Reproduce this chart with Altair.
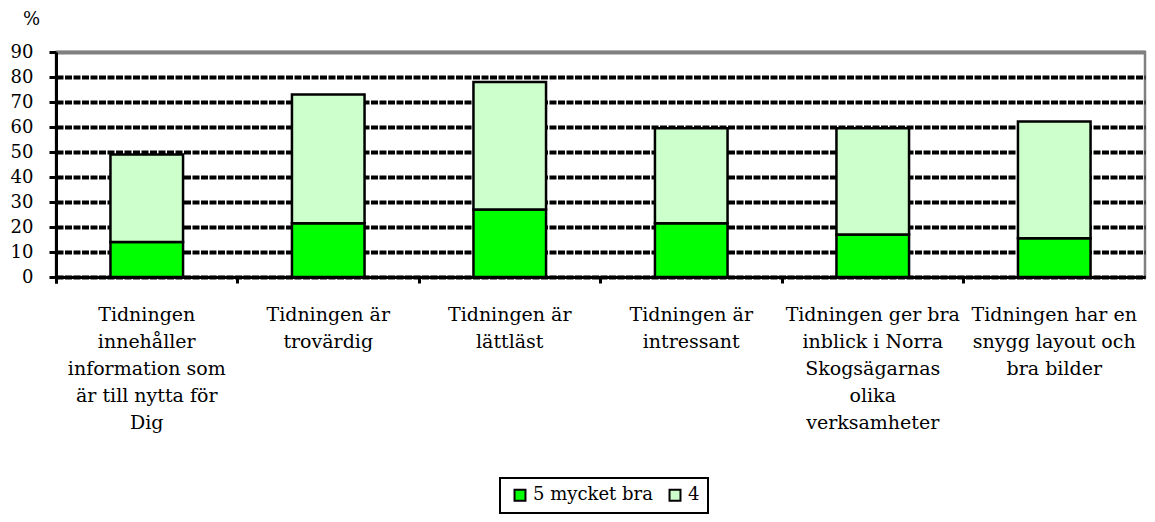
import altair as alt
import pandas as pd

categories = [
    "Tidningen|innehåller|information som|är till nytta för|Dig",
    "Tidningen är|trovärdig",
    "Tidningen är|lättläst",
    "Tidningen är|intressant",
    "Tidningen ger bra|inblick i Norra|Skogsägarnas|olika|verksamheter",
    "Tidningen har en|snygg layout och|bra bilder",
]
series = ["5 mycket bra", "4"]
values_5 = [14, 21.5, 27, 21.5, 17, 15.5]
values_4 = [35, 51.5, 51, 38, 42.5, 46.7]
colors = ["#00FF00", "#CCFFCC"]
y_ticks = [0, 10, 20, 30, 40, 50, 60, 70, 80, 90]

rows = []
for c, a, b in zip(categories, values_5, values_4):
    rows.append({"cat": c, "serie": series[0], "value": a, "ord": 0})
    rows.append({"cat": c, "serie": series[1], "value": b, "ord": 1})
df = pd.DataFrame(rows)

FONT = "DejaVu Serif"

chart = alt.Chart(df).mark_bar(
    width=alt.RelativeBandSize(0.4), stroke="black", strokeWidth=2.5
).encode(
    x=alt.X("cat:N", sort=categories, title=None,
            scale=alt.Scale(paddingInner=0, paddingOuter=0),
            axis=alt.Axis(
                labelExpr="split(datum.label, '|')",
                labelAngle=0, labelFont=FONT, labelFontSize=19,
                labelLineHeight=27, labelColor="black",
                labelPadding=22, labelLimit=400,
                bandPosition=0, tickExtra=True,
                tickSize=6, tickWidth=3, tickColor="black",
                domainColor="black", domainWidth=3,
                grid=False)),
    y=alt.Y("value:Q", stack="zero", title="%",
            scale=alt.Scale(domain=[0, 90], nice=False),
            axis=alt.Axis(
                values=y_ticks, labelFont=FONT, labelFontSize=18,
                labelColor="black", labelPadding=16,
                tickSize=7, tickWidth=3, tickColor="black",
                domainColor="black", domainWidth=3,
                grid=True,
                gridColor={"condition": {"test": "datum.value == 90", "value": "#808080"}, "value": "black"},
                gridDash={"condition": {"test": "datum.value == 90", "value": [1, 0]}, "value": [7, 1.5]},
                gridWidth=4,
                titleAngle=0, titleFont=FONT, titleFontSize=18,
                titleFontWeight="normal", titleColor="black",
                titleX=-25, titleY=-33, titleAlign="center",
                titleBaseline="middle")),
    color=alt.Color("serie:N", sort=series,
                    scale=alt.Scale(domain=series, range=colors),
                    legend=alt.Legend(
                        title=None, orient="none", direction="horizontal",
                        legendX=444, legendY=426,
                        strokeColor="black", padding=8,
                        symbolType="square", symbolSize=120,
                        symbolOffset=3,
                        symbolStrokeColor="black", symbolStrokeWidth=2,
                        labelFont=FONT, labelFontSize=18, labelColor="black",
                        labelOffset=4, columnPadding=10)),
    order=alt.Order("ord:Q"),
).properties(
    width=1089, height=225,
    autosize=alt.AutoSizeParams(type="none"),
    padding={"left": 48, "top": 44, "right": 2, "bottom": 237},
).configure_view(
    stroke="#808080", strokeWidth=2.5
).configure_legend(
    strokeWidth=2
)

chart.save("out.html", embed_options={"renderer": "svg", "actions": False})
